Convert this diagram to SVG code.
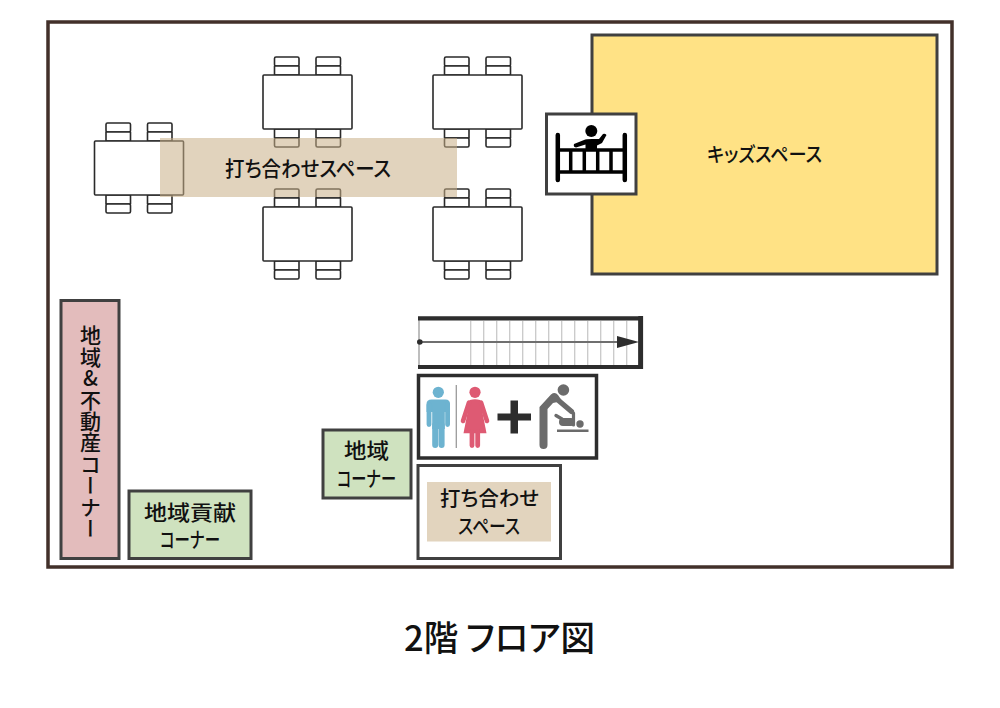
<svg xmlns="http://www.w3.org/2000/svg" xmlns:xlink="http://www.w3.org/1999/xlink" width="1000" height="708" viewBox="0 0 1000 708">
<style>
text{font-family:"Noto Sans CJK JP","Noto Sans",sans-serif;font-weight:500;fill:#111;text-anchor:middle;font-feature-settings:"palt"}
.room{stroke:#404040;stroke-width:3}
.t{fill:#fff;stroke:#2a2a2a;stroke-width:1.600;stroke-linejoin:round}
.step{stroke:#c9c9c9;stroke-width:1.300}
.f{font-size:20.500px}
.rs{fill:none;stroke-linecap:round;stroke-linejoin:round}
</style>
<defs>
<g id="table">
<rect class="t" x="11.500" y="-18" width="24.500" height="9" rx="1.500"/>
<rect class="t" x="11.500" y="-9" width="24.500" height="9"/>
<rect class="t" x="53" y="-18" width="24.500" height="9" rx="1.500"/>
<rect class="t" x="53" y="-9" width="24.500" height="9"/>
<rect class="t" x="11.500" y="54" width="24.500" height="9"/>
<rect class="t" x="11.500" y="63" width="24.500" height="9" rx="1.500"/>
<rect class="t" x="53" y="54" width="24.500" height="9"/>
<rect class="t" x="53" y="63" width="24.500" height="9" rx="1.500"/>
<rect class="t" x="0" y="0" width="89" height="54" rx="1"/>
</g>
</defs>
<rect width="1000" height="708" fill="#fff"/>
<g id="floor"><rect x="48" y="22" width="904" height="545" fill="#fff" stroke="#42302a" stroke-width="3.500"/></g>
<g id="tables">
<use xlink:href="#table" x="94.500" y="141"/>
<use xlink:href="#table" x="263" y="75"/>
<use xlink:href="#table" x="263" y="207"/>
<use xlink:href="#table" x="433" y="75"/>
<use xlink:href="#table" x="433" y="207"/>
</g>
<g id="meeting-space">
<rect x="160" y="138" width="297" height="59" fill="#c9ae87" fill-opacity=".55"/>
<text x="308" y="176" font-size="21" textLength="166" lengthAdjust="spacingAndGlyphs">打ち合わせスペース</text>
</g>
<g id="kids-space">
<rect class="room" x="592" y="35" width="345" height="239" fill="#ffe285"/>
<text x="764.500" y="162" font-size="20" textLength="115" lengthAdjust="spacingAndGlyphs">キッズスペース</text>
</g>
<g id="crib">
<rect class="room" x="546.500" y="114" width="89.500" height="80" fill="#fff"/>
<g stroke="#000" fill="none" stroke-linecap="round">
<path stroke-width="4.500" d="M557.800 135V180M624.800 135V180"/>
<path stroke-width="3.500" stroke-linecap="butt" d="M558 150H625M558 172H625M570.700 150V172M584.300 150V172M597.700 150V172M611 150V172"/>
</g>
<circle cx="591.300" cy="131" r="6" fill="#000"/>
<path d="M574 144 L584 140 Q586 139 592 139 L599 139 L603 134 Q605 133 606.500 135 L602 143 L597 145.500 L597 150 L585.500 150 L585.500 144.500 L576 147.500 Q573 147 574 144Z" fill="#000"/>
</g>
<g id="stairs">
<path class="step" d="M470.700 321V365M483.700 321V365M496.700 321V365M509.700 321V365M522.700 321V365M535.700 321V365M548.700 321V365M561.700 321V365M574.700 321V365M587.700 321V365M600.700 321V365M613.700 321V365M626.700 321V365"/>
<path d="M419 319V366" stroke="#a8a8a8" stroke-width="1.500"/>
<path d="M418 318.300H640.500V367H418" fill="none" stroke="#2d2d2d" stroke-width="4.200"/>
<path d="M640.700 316V369" stroke="#2d2d2d" stroke-width="4.800"/>
<path d="M420 342H622" stroke="#6f6f6f" stroke-width="1.800"/>
<circle cx="419.800" cy="342" r="2.800" fill="#2d2d2d"/>
<path d="M617 336L639 342L617 348Z" fill="#2d2d2d"/>
</g>
<g id="restroom">
<rect x="418.500" y="375.500" width="178" height="82.500" fill="#fff" stroke="#2d2d2d" stroke-width="3.500"/>
<g fill="#6db3d0">
<circle cx="438.300" cy="392.300" r="5.600"/>
<path d="M431.500 399.500H445.500Q450 399.500 450 404V412H426.500V404Q426.500 399.500 431.500 399.500Z"/>
<rect x="432.200" y="405" width="12.600" height="24"/>
</g>
<path class="rs" stroke="#6db3d0" stroke-width="4.800" d="M429 405V424.500M447.600 405V424.500"/>
<path class="rs" stroke="#6db3d0" stroke-width="6" d="M435.200 425V445M441.600 425V445"/>
<path d="M456.300 385V448" stroke="#9a9a9a" stroke-width="1.300"/>
<circle cx="475" cy="392.300" r="5.600" fill="#de5a73"/>
<path d="M470 400Q475 398.500 480 400L486.500 433.300H463.500Z" fill="#de5a73"/>
<path class="rs" stroke="#de5a73" stroke-width="4.600" d="M469 402.500L463 421M481 402.500L487 421"/>
<path class="rs" stroke="#de5a73" stroke-width="4.800" d="M472 432V445.500M477.700 432V445.500"/>
<path d="M510.500 400.500H518V413.500H531V420.500H518V433.500H510.500V420.500H497.500V413.500H510.500Z" fill="#2d2d2d"/>
<g fill="#6b6b6b">
<circle cx="563.400" cy="390" r="5.800"/>
<rect x="557" y="429.500" width="31.500" height="2.500"/>
<circle cx="580" cy="424" r="3.700"/>
<path d="M539.500 445V407L551 394.500Q555 391.500 558 395L562 401L553 403L547.500 409V445Q547.500 449 543.500 449Q539.500 449 539.500 445Z"/>
</g>
<g class="rs" stroke="#6b6b6b">
<path stroke-width="5.200" d="M555 397.500L571.500 411.500"/>
<path stroke-width="3.400" d="M556 415.500L562 419"/>
<path stroke-width="8" d="M563 422H571"/>
<path stroke-width="3.200" d="M573.500 425V413"/>
</g>
</g>
<g id="meeting-room">
<rect x="418" y="465.500" width="142.500" height="93" fill="#fff" stroke="#404040" stroke-width="3"/>
<rect x="427" y="482" width="124" height="59.500" fill="#e2d4be"/>
<text class="f" x="489.500" y="505.500" textLength="99" lengthAdjust="spacingAndGlyphs">打ち合わせ</text>
<text class="f" x="489" y="534" textLength="62" lengthAdjust="spacingAndGlyphs">スペース</text>
</g>
<g id="local-corner">
<rect class="room" x="323" y="430" width="88" height="68" fill="#cfe2bf"/>
<text x="366.500" y="458" font-size="21" textLength="45" lengthAdjust="spacingAndGlyphs">地域</text>
<text x="366.500" y="486" font-size="21" textLength="59" lengthAdjust="spacingAndGlyphs">コーナー</text>
</g>
<g id="contribution-corner">
<rect class="room" x="129" y="491" width="122" height="67.500" fill="#cfe2bf"/>
<text x="190" y="520" font-size="21" textLength="92" lengthAdjust="spacingAndGlyphs">地域貢献</text>
<text x="190" y="547" font-size="21" textLength="60" lengthAdjust="spacingAndGlyphs">コーナー</text>
</g>
<g id="realestate-corner">
<rect class="room" x="61" y="300.500" width="58" height="258" fill="#e3bcbc"/>
<text x="90.500" y="325" font-size="21" style="writing-mode:vertical-rl;text-orientation:upright;text-anchor:start;font-feature-settings:normal;letter-spacing:.4px">地域&amp;不動産コーナー</text>
</g>
<g id="title"><text x="499.500" y="651" font-size="35" textLength="191" lengthAdjust="spacingAndGlyphs">2階 フロア図</text></g>
</svg>
